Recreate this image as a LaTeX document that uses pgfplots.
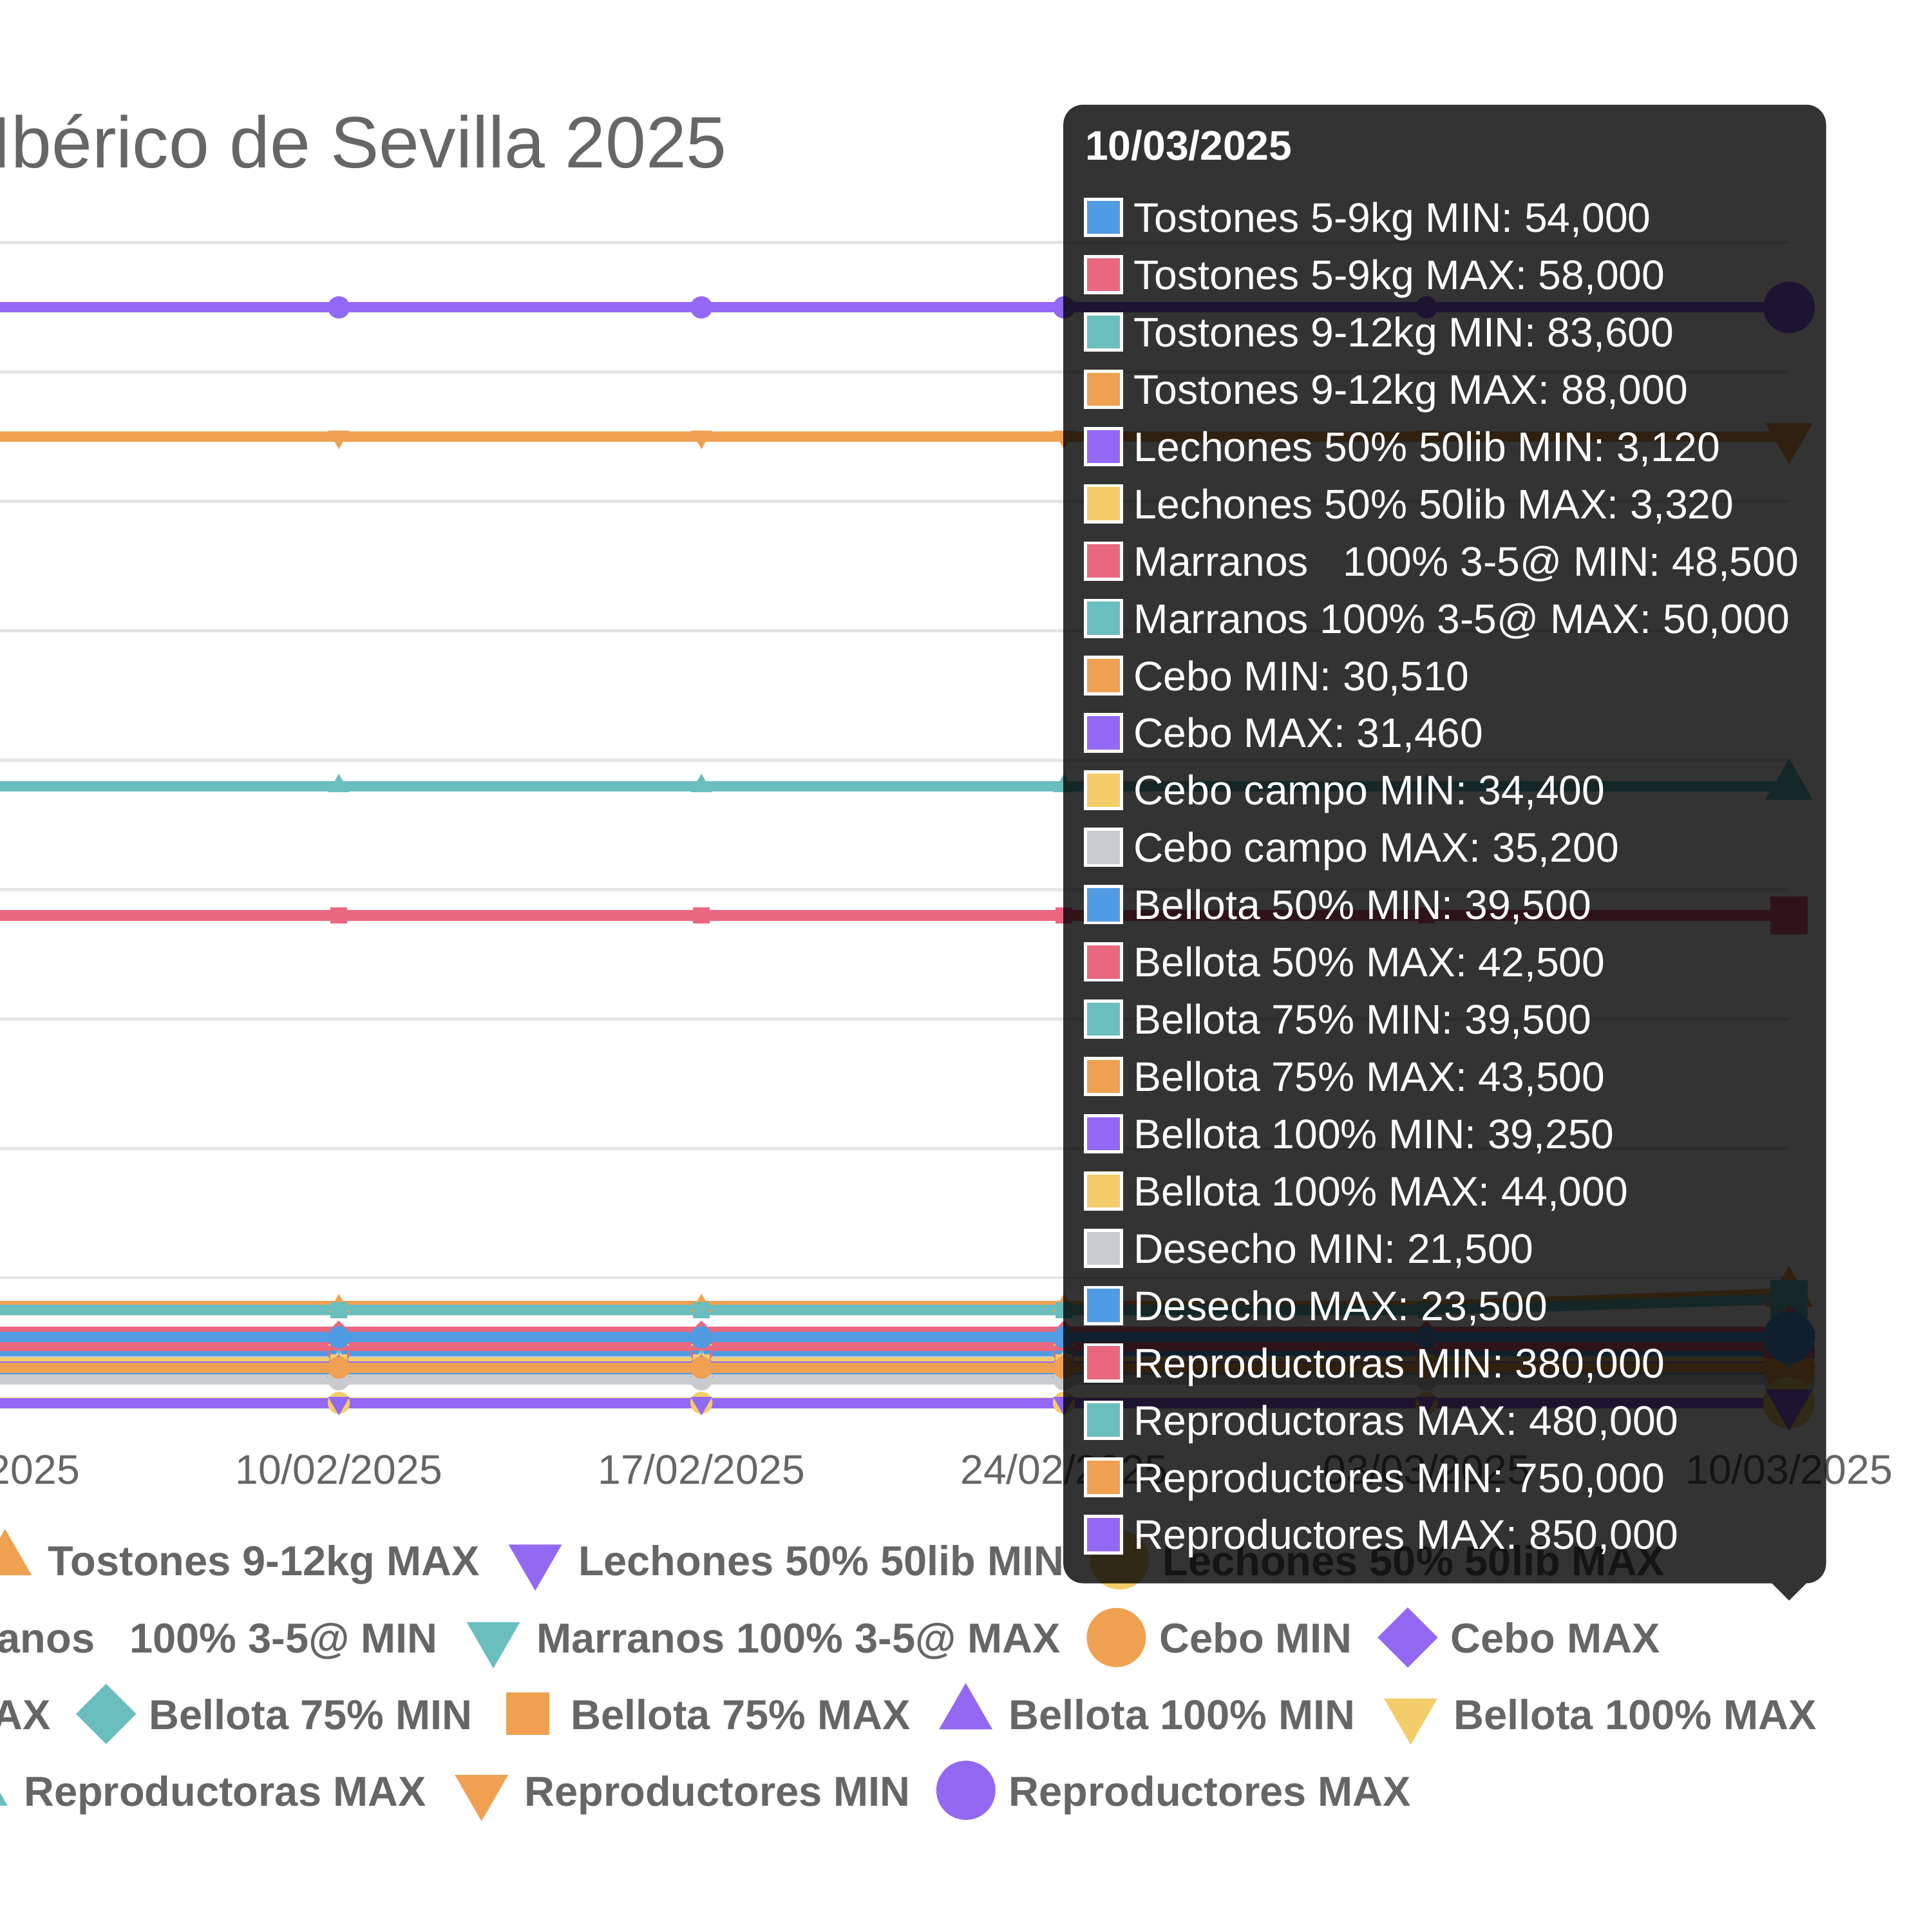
\documentclass[border=0pt]{standalone}
\usepackage{pgfplots}
\pgfplotsset{compat=1.18}
\usepackage{pgfplotstable}
\usepackage{fontspec}
\setmainfont{Liberation Sans}

\definecolor{cBlue}{RGB}{80,155,226}
\definecolor{cPink}{RGB}{233,104,128}
\definecolor{cTeal}{RGB}{106,190,190}
\definecolor{cOrange}{RGB}{239,161,81}
\definecolor{cPurple}{RGB}{147,104,243}
\definecolor{cYellow}{RGB}{244,205,106}
\definecolor{cGrey}{RGB}{201,203,207}
\definecolor{tickgray}{RGB}{102,102,102}
\definecolor{gridgray}{RGB}{229,229,229}

\newcommand{\fnt}{\fontsize{9.55pt}{11pt}\selectfont}
\newcommand{\bfnt}{\fontsize{9.66pt}{11pt}\selectfont\bfseries}
\newcommand{\tfnt}{\fontsize{16.8pt}{20pt}\selectfont}

\tikzset{
 mC/.style 2 args={mark=*, mark size=#1, mark options={solid, line width=#2}},
 mD/.style 2 args={mark=square*, mark size={0.7071*#1}, mark options={solid, line width=#2, rotate=45}},
 mS/.style 2 args={mark=square*, mark size={0.7071*#1}, mark options={solid, line width=#2}},
 mT/.style 2 args={mark=triangle*, mark size=#1, mark options={solid, line width=#2}},
 mV/.style 2 args={mark=triangle*, mark size=#1, mark options={solid, line width=#2, rotate=180}},
}

\pgfplotstableread{
i s0 s1 s2 s3 s4 s5 s8 s9 s10 s11 s12 s13 s14 s15 s16 s17 s18 s19 s20 s21 s22 s23 s24 s25
0 54000 58000 75000 78000 3120 3320 48500 50000 30510 31460 34400 35200 39500 42500 39500 43500 39250 44000 21500 23500 380000 480000 750000 850000
1 54000 58000 75000 78000 3120 3320 48500 50000 30510 31460 34400 35200 39500 42500 39500 43500 39250 44000 21500 23500 380000 480000 750000 850000
2 54000 58000 75000 78000 3120 3320 48500 50000 30510 31460 34400 35200 39500 42500 39500 43500 39250 44000 21500 23500 380000 480000 750000 850000
3 54000 58000 75000 78000 3120 3320 48500 50000 30510 31460 34400 35200 39500 42500 39500 43500 39250 44000 21500 23500 380000 480000 750000 850000
4 54000 58000 75000 78000 3120 3320 48500 50000 30510 31460 34400 35200 39500 42500 39500 43500 39250 44000 21500 23500 380000 480000 750000 850000
5 54000 58000 83600 88000 3120 3320 48500 50000 30510 31460 34400 35200 39500 42500 39500 43500 39250 44000 21500 23500 380000 480000 750000 850000
}\data

\newcommand{\ser}[3]{\addplot[color=#2, line width=0.84mm, #3={0.8mm}{0.2mm}, mark indices={1,2,3,4,5}] table[x=i,y=#1]{\data};}
\newcommand{\hov}[3]{\addplot[color=#2, only marks, #3={1.95mm}{0.28mm}, mark indices={6}] table[x=i,y=#1]{\data};}
\newcommand{\legitem}[3]{\addlegendimage{#1, only marks, #2={2.3mm}{0.2mm}}\addlegendentry{#3}}

\pgfplotsset{legrow/.style={anchor=center, scale only axis, width=1mm, height=1mm, hide axis,
  xmin=0, xmax=1, ymin=0, ymax=1, legend columns=-1, legend cell align=left,
  legend style={at={(0.5,0.5)}, anchor=east, draw=none, fill=none, inner sep=0pt,
    font=\bfnt, text=tickgray,
    nodes={inner sep=0pt, text height=0.716em, text depth=0pt},
    /tikz/every odd column/.append style={column sep=1.1mm},
    /tikz/every even column/.append style={column sep=2.1mm}},
  legend image code/.code={\path[draw=none, fill=none] (-2.4mm,-2.4mm) rectangle (2.4mm,2.4mm);
     \draw[mark repeat=2,mark phase=2,##1] plot coordinates {(-2.4mm,0mm) (0mm,0mm) (2.4mm,0mm)};}}}

\newcommand{\tip}[3]{%
  \pgfmathsetmacro{\yc}{156.8-(17.65+4.648*#1)}%
  \fill[white] (87.95mm,\yc mm-1.6mm) rectangle (91.15mm,\yc mm+1.6mm);
  \fill[#2] (88.2mm,\yc mm-1.35mm) rectangle (90.9mm,\yc mm+1.35mm);
  \node[anchor=base west, inner sep=0pt, text=white, font=\fnt] at (91.95mm,\yc mm-1.2mm) {#3};}

\begin{document}
\begin{tikzpicture}
\useasboundingbox (0,0) rectangle (156.8mm,156.8mm);
\clip (0,0) rectangle (156.8mm,156.8mm);

\node[anchor=base west, inner sep=0pt, text=tickgray, font=\tfnt] at (-0.8mm,143.2mm) {Ibérico de Sevilla 2025};

\begin{axis}[
  at={(-1.925mm,42.6mm)}, anchor=south west, scale only axis,
  width=147.125mm, height=94.5mm,
  xmin=0, xmax=5, ymin=0, ymax=900000,
  clip=false,
  axis line style={draw=none},
  major tick length=0pt,
  xtick={0,1,2,3,4,5},
  xticklabels={03/02/2025,10/02/2025,17/02/2025,24/02/2025,03/03/2025,10/03/2025},
  xticklabel style={font=\fnt, text=tickgray, inner sep=0pt, anchor=north, yshift=-3.75mm},
  ytick={0,100000,200000,300000,400000,500000,600000,700000,800000,900000},
  yticklabels={},
  scaled y ticks=false,
  ymajorgrids, grid style={draw=gridgray, line width=0.25mm},
]
\ser{s25}{cPurple}{mC}
\ser{s24}{cOrange}{mV}
\ser{s23}{cTeal}{mT}
\ser{s22}{cPink}{mS}
\ser{s21}{cBlue}{mD}
\ser{s20}{cGrey}{mC}
\ser{s19}{cYellow}{mV}
\ser{s18}{cPurple}{mT}
\ser{s17}{cOrange}{mS}
\ser{s16}{cTeal}{mD}
\ser{s15}{cPink}{mC}
\ser{s14}{cBlue}{mV}
\ser{s13}{cGrey}{mT}
\ser{s12}{cYellow}{mS}
\ser{s11}{cPurple}{mD}
\ser{s10}{cOrange}{mC}
\ser{s9}{cTeal}{mV}
\ser{s8}{cPink}{mT}
\ser{s5}{cYellow}{mC}
\ser{s4}{cPurple}{mV}
\ser{s3}{cOrange}{mT}
\ser{s2}{cTeal}{mS}
\ser{s1}{cPink}{mD}
\ser{s0}{cBlue}{mC}
\hov{s25}{cPurple}{mC}
\hov{s24}{cOrange}{mV}
\hov{s23}{cTeal}{mT}
\hov{s22}{cPink}{mS}
\hov{s21}{cBlue}{mD}
\hov{s20}{cGrey}{mC}
\hov{s19}{cYellow}{mV}
\hov{s18}{cPurple}{mT}
\hov{s17}{cOrange}{mS}
\hov{s16}{cTeal}{mD}
\hov{s15}{cPink}{mC}
\hov{s14}{cBlue}{mV}
\hov{s13}{cGrey}{mT}
\hov{s12}{cYellow}{mS}
\hov{s11}{cPurple}{mD}
\hov{s10}{cOrange}{mC}
\hov{s9}{cTeal}{mV}
\hov{s8}{cPink}{mT}
\hov{s5}{cYellow}{mC}
\hov{s4}{cPurple}{mV}
\hov{s3}{cOrange}{mT}
\hov{s2}{cTeal}{mS}
\hov{s1}{cPink}{mD}
\hov{s0}{cBlue}{mC}
\end{axis}

\begin{axis}[legrow, at={(135.2mm,30.2mm)}]
\legitem{cBlue}{mC}{Tostones 5-9kg MIN}
\legitem{cPink}{mD}{Tostones 5-9kg MAX}
\legitem{cTeal}{mS}{Tostones 9-12kg MIN}
\legitem{cOrange}{mT}{Tostones 9-12kg MAX}
\legitem{cPurple}{mV}{Lechones 50\% 50lib MIN}
\legitem{cYellow}{mC}{Lechones 50\% 50lib MAX}
\end{axis}

\begin{axis}[legrow, at={(134.8mm,23.9mm)}]
\legitem{cPink}{mT}{Marranos\ \ \ 100\% 3-5@ MIN}
\legitem{cTeal}{mV}{Marranos 100\% 3-5@ MAX}
\legitem{cOrange}{mC}{Cebo MIN}
\legitem{cPurple}{mD}{Cebo MAX}
\end{axis}

\begin{axis}[legrow, at={(147.5mm,17.7mm)}]
\legitem{cYellow}{mS}{Cebo campo MIN}
\legitem{cGrey}{mT}{Cebo campo MAX}
\legitem{cBlue}{mV}{Bellota 50\% MIN}
\legitem{cPink}{mC}{Bellota 50\% MAX}
\legitem{cTeal}{mD}{Bellota 75\% MIN}
\legitem{cOrange}{mS}{Bellota 75\% MAX}
\legitem{cPurple}{mT}{Bellota 100\% MIN}
\legitem{cYellow}{mV}{Bellota 100\% MAX}
\end{axis}

\begin{axis}[legrow, at={(114.6mm,11.5mm)}]
\legitem{cGrey}{mC}{Desecho MIN}
\legitem{cBlue}{mD}{Desecho MAX}
\legitem{cPink}{mS}{Reproductoras MIN}
\legitem{cTeal}{mT}{Reproductoras MAX}
\legitem{cOrange}{mV}{Reproductores MIN}
\legitem{cPurple}{mC}{Reproductores MAX}
\end{axis}

% tooltip
\fill[black, fill opacity=0.8] [rounded corners=1.6mm] (86.3mm,28.3mm) rectangle (148.2mm,148.3mm)
  [sharp corners] (143.8mm,28.3mm) -- (145.2mm,26.9mm) -- (146.6mm,28.3mm) -- cycle;
\node[anchor=base west, inner sep=0pt, text=white, font=\fnt\bfseries] at (88.0mm,143.8mm) {10/03/2025};
\tip{0}{cBlue}{Tostones 5-9kg MIN: 54,000}
\tip{1}{cPink}{Tostones 5-9kg MAX: 58,000}
\tip{2}{cTeal}{Tostones 9-12kg MIN: 83,600}
\tip{3}{cOrange}{Tostones 9-12kg MAX: 88,000}
\tip{4}{cPurple}{Lechones 50\% 50lib MIN: 3,120}
\tip{5}{cYellow}{Lechones 50\% 50lib MAX: 3,320}
\tip{6}{cPink}{Marranos\ \ \ 100\% 3-5@ MIN: 48,500}
\tip{7}{cTeal}{Marranos 100\% 3-5@ MAX: 50,000}
\tip{8}{cOrange}{Cebo MIN: 30,510}
\tip{9}{cPurple}{Cebo MAX: 31,460}
\tip{10}{cYellow}{Cebo campo MIN: 34,400}
\tip{11}{cGrey}{Cebo campo MAX: 35,200}
\tip{12}{cBlue}{Bellota 50\% MIN: 39,500}
\tip{13}{cPink}{Bellota 50\% MAX: 42,500}
\tip{14}{cTeal}{Bellota 75\% MIN: 39,500}
\tip{15}{cOrange}{Bellota 75\% MAX: 43,500}
\tip{16}{cPurple}{Bellota 100\% MIN: 39,250}
\tip{17}{cYellow}{Bellota 100\% MAX: 44,000}
\tip{18}{cGrey}{Desecho MIN: 21,500}
\tip{19}{cBlue}{Desecho MAX: 23,500}
\tip{20}{cPink}{Reproductoras MIN: 380,000}
\tip{21}{cTeal}{Reproductoras MAX: 480,000}
\tip{22}{cOrange}{Reproductores MIN: 750,000}
\tip{23}{cPurple}{Reproductores MAX: 850,000}
\end{tikzpicture}
\end{document}
